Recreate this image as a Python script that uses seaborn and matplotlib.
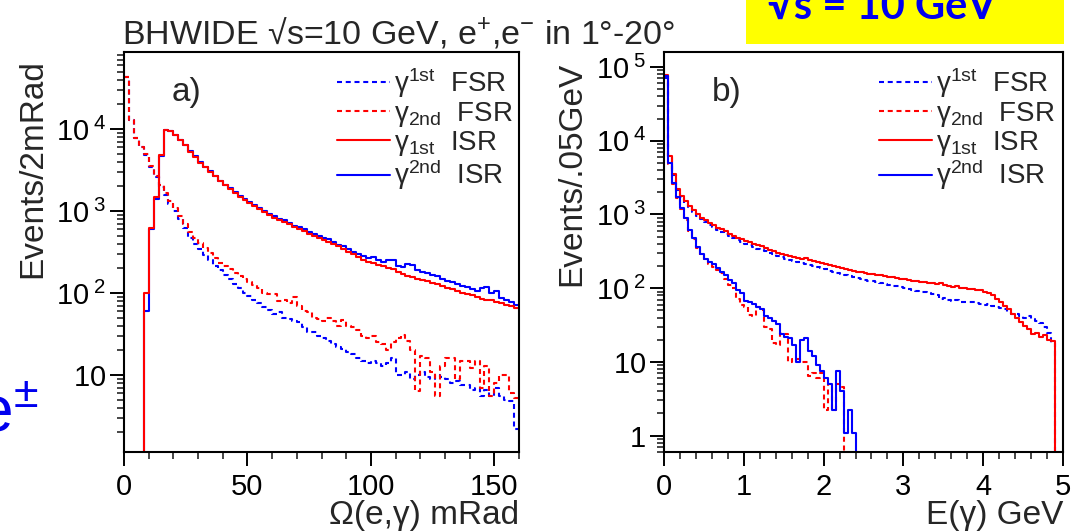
import numpy as np
import pandas as pd
import matplotlib
matplotlib.use("Agg")
import matplotlib.pyplot as plt
import seaborn as sns
from matplotlib.lines import Line2D
from matplotlib.patches import Rectangle
from matplotlib.ticker import MultipleLocator, NullFormatter, LogLocator

sns.set_theme(style="ticks")
plt.rcParams['font.family'] = ['Liberation Sans', 'DejaVu Sans']
plt.rcParams['mathtext.fontset'] = 'custom'
plt.rcParams['mathtext.rm'] = 'Liberation Sans'
plt.rcParams['mathtext.it'] = 'Liberation Sans:italic'
plt.rcParams['mathtext.bf'] = 'Liberation Sans:bold'
plt.rcParams['mathtext.sf'] = 'Liberation Sans'

# ---------------- data ----------------
omega_bin = 2.0          # mRad
omega_range = (0, 160)
energy_bin = 0.05        # GeV
energy_range = (0, 5)

# panel a) : Omega(e, gamma)
fsr1_a = [43000, 13000, 7800, 6000, 4800, 3450, 2600, 1950, 1550, 1230,
          1000, 800, 620, 470, 400, 340, 290, 250, 215, 190,
          165, 150, 130, 115, 100, 92, 83, 75, 68, 62,
          56, 58, 50, 48, 45, 44, 38, 33, 33, 30,
          28, 26, 24, 22, 21, 19, 18, 16, 15, 14,
          15, 14, 13, 14, 16, 10, 10, 11, 9, 10,
          11, 9.5, 9, 10, 9.5, 9, 8, 8.5, 7.5, 7.5,
          6.5, 7, 5.5, 6.5, 5.5, 7, 5.5, 5, 4.8, 2.2]
fsr2_a = [43000, 13000, 7800, 6100, 4900, 3500, 2700, 2050, 1650, 1330,
          1100, 880, 700, 560, 470, 410, 350, 310, 270, 235,
          215, 195, 175, 160, 150, 135, 125, 115, 100, 97,
          98, 80, 82, 75, 90, 70, 60, 58, 50, 48,
          45, 50, 46, 40, 47, 40, 38, 35, 30, 28,
          30, 25, 24, 20, 25, 28, 31, 26, 20, 6.3,
          17, 16, 11, 5.5, 13, 16, 16, 9, 15, 15,
          12, 15, 7, 13, 5.5, 8, 10, 10, 6, 5.3]
isr1_a = [0, 0, 0, 0, 100, 620, 1500, 4800, 9800, 9400,
          8500, 7400, 6300, 5300, 4600, 3900, 3400, 3000, 2650, 2300,
          2050, 1850, 1650, 1500, 1380, 1250, 1150, 1060, 980, 900,
          830, 780, 730, 690, 640, 610, 570, 530, 500, 470,
          440, 420, 395, 370, 345, 320, 300, 275, 255, 240,
          232, 222, 212, 203, 195, 182, 172, 160, 158, 150,
          143, 140, 132, 128, 122, 116, 112, 105, 100, 97,
          94, 90, 85, 82, 82, 78, 75, 72, 70, 66]
isr2_a = [0, 0, 0, 0, 60, 600, 1400, 4700, 9700, 9500,
          8400, 7300, 6400, 5400, 4700, 3950, 3450, 3050, 2700, 2350,
          2100, 1900, 1700, 1540, 1400, 1280, 1180, 1090, 1000, 930,
          860, 800, 770, 720, 660, 630, 600, 560, 520, 490,
          470, 450, 420, 390, 370, 345, 320, 300, 285, 265,
          275, 250, 240, 255, 250, 215, 205, 225, 220, 190,
          180, 175, 165, 160, 150, 140, 135, 130, 122, 118,
          112, 105, 115, 118, 100, 105, 88, 82, 78, 72]

# panel b) : E(gamma)
isr1_b = [78000, 6300, 3500, 2250, 1800, 1520, 1320, 1150, 1000, 910,
          830, 760, 710, 660, 630, 590, 550, 510, 480, 460,
          440, 420, 400, 385, 370, 350, 335, 320, 305, 295,
          280, 270, 265, 255, 250, 260, 240, 232, 225, 220,
          212, 205, 200, 195, 190, 180, 176, 172, 168, 165,
          160, 158, 155, 152, 150, 146, 142, 140, 137, 134,
          132, 128, 126, 124, 122, 120, 118, 116, 113, 118,
          110, 108, 104, 106, 100, 102, 98, 98, 96, 94,
          90, 86, 80, 72, 64, 58, 52, 45, 40, 35,
          31, 28, 24, 25, 22, 23, 20, 19, 0, 0]
fsr1_b = [70000, 6000, 3400, 2150, 1700, 1450, 1250, 1080, 950, 860,
          780, 720, 670, 620, 585, 545, 510, 475, 445, 420,
          400, 380, 362, 345, 330, 315, 300, 288, 275, 262,
          250, 240, 232, 225, 218, 212, 205, 198, 192, 186,
          180, 172, 168, 160, 156, 150, 146, 142, 138, 134,
          130, 127, 124, 120, 118, 114, 111, 108, 106, 103,
          100, 98, 95, 93, 90, 88, 86, 84, 82, 72,
          74, 70, 68, 70, 66, 65, 64, 66, 63, 62,
          60, 62, 58, 56, 54, 52, 48, 45, 44, 42,
          40, 42, 38, 36, 34, 30, 25, 18, 0, 0]
isr2_b = [75000, 5000, 2700, 1700, 1240, 890, 610, 475, 360, 295,
          250, 225, 210, 190, 165, 150, 130, 118, 95, 85,
          68, 66, 62, 55, 52, 42, 40, 36, 33, 24,
          22, 21, 17, 10, 20, 21, 14, 12, 9, 7.5,
          6, 5, 2.2, 7.5, 4, 1.1, 2.2, 1.1] + [0] * 52
fsr2_b = [75000, 4800, 2600, 1650, 1200, 850, 600, 460, 350, 285,
          240, 215, 195, 175, 160, 135, 110, 100, 72, 60,
          55, 43, 42, 55, 50, 30, 28, 18, 17, 25,
          24, 10, 11, 11, 10, 10, 6.5, 7, 6, 7,
          2.2, 5, 2.2, 5, 4.5] + [0] * 55

legend_labels = [r"$\mathregular{γ^{1st}}$  FSR", r"$\mathregular{γ_{2nd}}$  FSR",
                 r"$\mathregular{γ_{1st}}$  ISR", r"$\mathregular{γ^{2nd}}$  ISR"]
title_text = "BHWIDE √s=10 GeV, e$^{+}$,e$^{-}$ in 1°-20°"

# ---------------- styling ----------------
RED = "#ff0000"
BLUE = "#0000ff"
DOT = (0, (2.4, 1.8))
LW = 1.5

W, H = 1076, 532
fig = plt.figure(figsize=(W / 100, H / 100), dpi=100)

def fx(px):
    return px / W

def fy(py):
    return 1 - py / H

axA = fig.add_axes([fx(124), fy(452), fx(519) - fx(124), fy(52) - fy(452)])
axB = fig.add_axes([fx(664), fy(452), fx(1063) - fx(664), fy(52) - fy(452)])


def draw_hist(ax, width, rng, values, color, ls):
    n = len(values)
    centers = rng[0] + width * (np.arange(n) + 0.5)
    df = pd.DataFrame({"x": centers, "w": np.asarray(values, dtype=float)})
    sns.histplot(data=df, x="x", weights="w", binwidth=width, binrange=rng,
                 element="step", fill=False, color=color, ax=ax, linewidth=LW)
    ax.lines[-1].set_linestyle(ls)


# panel a
draw_hist(axA, omega_bin, omega_range, fsr1_a, BLUE, DOT)
draw_hist(axA, omega_bin, omega_range, fsr2_a, RED, DOT)
draw_hist(axA, omega_bin, omega_range, isr2_a, BLUE, "-")
draw_hist(axA, omega_bin, omega_range, isr1_a, RED, "-")
# panel b
draw_hist(axB, energy_bin, energy_range, fsr1_b, BLUE, DOT)
draw_hist(axB, energy_bin, energy_range, isr1_b, RED, "-")
draw_hist(axB, energy_bin, energy_range, fsr2_b, RED, DOT)
draw_hist(axB, energy_bin, energy_range, isr2_b, BLUE, "-")

pad_lbl = r"$\mathregular{10\ \ \,}$"
def explbl(e):
    return r"$\mathregular{10^{\;%d}}$" % e

for ax in (axA, axB):
    ax.set_yscale("log")
    ax.set_xlabel("")
    ax.set_ylabel("")
    for s in ax.spines.values():
        s.set_linewidth(1.5)
        s.set_color("black")
    ax.tick_params(which="major", direction="out", length=10, width=1.4,
                   labelsize=21, colors="black", pad=3,
                   top=False, right=False)
    ax.tick_params(which="minor", direction="out", length=5, width=1.2,
                   top=False, right=False)
    ax.yaxis.set_minor_locator(LogLocator(base=10, subs=np.arange(2, 10), numticks=20))
    ax.yaxis.set_minor_formatter(NullFormatter())
    ax.tick_params(axis="x", pad=5)

axA.set_xlim(*omega_range)
axA.set_ylim(1.15, 8.7e4)
axA.set_xticks([0, 50, 100, 150])
axA.xaxis.set_minor_locator(MultipleLocator(10))
axA.set_yticks([10, 100, 1000, 10000])
axA.set_yticklabels([pad_lbl, explbl(2), explbl(3), explbl(4)])

axB.set_xlim(*energy_range)
axB.set_ylim(0.6, 1.6e5)
axB.set_xticks([0, 1, 2, 3, 4, 5])
axB.xaxis.set_minor_locator(MultipleLocator(0.2))
axB.set_yticks([1, 10, 100, 1000, 10000, 100000])
axB.set_yticklabels([r"$\mathregular{1\ \ \,}$", pad_lbl, explbl(2), explbl(3), explbl(4), explbl(5)])

# legends
handles = [Line2D([], [], color=BLUE, ls=DOT, lw=LW),
           Line2D([], [], color=RED, ls=DOT, lw=LW),
           Line2D([], [], color=RED, ls="-", lw=LW),
           Line2D([], [], color=BLUE, ls="-", lw=LW)]
for ax in (axA, axB):
    ax.legend(handles, legend_labels, loc="upper left", bbox_to_anchor=(0.54, 0.965),
              frameon=False, fontsize=20, handlelength=1.9, handletextpad=0.15,
              labelspacing=0.0, borderpad=0, borderaxespad=0)

axA.text(0.12, 0.90, "a)", transform=axA.transAxes, fontsize=24, ha="left", va="center")
axB.text(0.12, 0.90, "b)", transform=axB.transAxes, fontsize=24, ha="left", va="center")

# axis titles (ROOT style)
fig.text(fx(33), fy(59), "Events/2mRad", rotation=90, ha="center", va="top", fontsize=24)
fig.text(fx(572), fy(62), "Events/.05GeV", rotation=90, ha="center", va="top", fontsize=24)
fig.text(fx(519), fy(524), "Ω(e,γ) mRad", ha="right", va="baseline", fontsize=24)
fig.text(fx(1063), fy(524), "E(γ) GeV", ha="right", va="baseline", fontsize=24)

# title
fig.text(fx(122), fy(43), title_text, ha="left", va="baseline", fontsize=24.5)

# slide overlays
fig.patches.append(Rectangle((fx(746), fy(44)), fx(1064) - fx(746), fy(0) - fy(44),
                             transform=fig.transFigure, facecolor="#ffff00",
                             edgecolor="none", zorder=0))
fig.text(fx(768), fy(19), "√s = 10 GeV", ha="left", va="baseline", fontsize=30,
         fontweight="bold", color="#0000ee", family=["Lato", "DejaVu Sans"])
fig.text(fx(38), fy(432), "e$^{\\pm}$", ha="right", va="baseline", fontsize=46,
         color="#0000ee")

fig.savefig("out.png", dpi=100)
